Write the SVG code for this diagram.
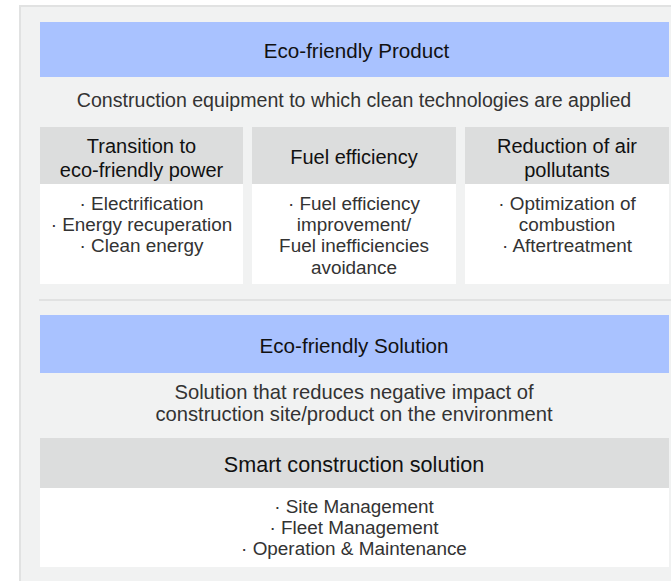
<svg xmlns="http://www.w3.org/2000/svg" width="671" height="581" viewBox="0 0 671 581">
<style>
.panel{fill:#f1f2f2;stroke:#e1e2e2;stroke-width:2}
.blue{fill:#a9c2ff}
.gray{fill:#dcdddd}
.white{fill:#ffffff}
.sep{stroke:#e1e2e2;stroke-width:2}
text{font-family:"Liberation Sans","Noto Sans",Arial,sans-serif;text-anchor:middle;fill:#2b2b2b}
.h{font-size:20.6px;fill:#111}
.ch{font-size:20px;fill:#111}
.sh{font-size:21.6px;fill:#111}
.t{font-size:19.6px;fill:#333}
.t2{font-size:20.2px;fill:#333}
.b{font-size:18.9px;fill:#333}
</style>
<rect class="panel" x="20" y="6" width="660" height="585"/>
<g id="product">
  <rect class="blue" x="40" y="22" width="629" height="55"/>
  <text class="h" x="356.5" y="58">Eco-friendly Product</text>
  <text class="t" x="354" y="107">Construction equipment to which clean technologies are applied</text>
</g>
<g id="col-power">
  <rect class="gray" x="40" y="127" width="203" height="57"/>
  <rect class="white" x="40" y="184" width="203" height="100"/>
  <text class="ch" x="141.5" y="153">Transition to</text>
  <text class="ch" x="141.5" y="177">eco-friendly power</text>
  <text class="b" x="141.5" y="210">· Electrification</text>
  <text class="b" x="141.5" y="231">· Energy recuperation</text>
  <text class="b" x="141.5" y="252">· Clean energy</text>
</g>
<g id="col-fuel">
  <rect class="gray" x="252" y="127" width="204" height="57"/>
  <rect class="white" x="252" y="184" width="204" height="100"/>
  <text class="ch" x="354" y="164">Fuel efficiency</text>
  <text class="b" x="354" y="210">· Fuel efficiency</text>
  <text class="b" x="354" y="231">improvement/</text>
  <text class="b" x="354" y="252">Fuel inefficiencies</text>
  <text class="b" x="354" y="274">avoidance</text>
</g>
<g id="col-air">
  <rect class="gray" x="465" y="127" width="204" height="57"/>
  <rect class="white" x="465" y="184" width="204" height="100"/>
  <text class="ch" x="567" y="153">Reduction of air</text>
  <text class="ch" x="567" y="177">pollutants</text>
  <text class="b" x="567" y="210">· Optimization of</text>
  <text class="b" x="567" y="231">combustion</text>
  <text class="b" x="567" y="252">· Aftertreatment</text>
</g>
<g id="connectors">
  <line class="sep" x1="39" y1="300" x2="671" y2="300"/>
</g>
<g id="solution">
  <rect class="blue" x="40" y="315" width="629" height="58"/>
  <text class="h" x="354" y="353">Eco-friendly Solution</text>
  <text class="t2" x="354" y="399">Solution that reduces negative impact of</text>
  <text class="t2" x="354" y="421">construction site/product on the environment</text>
</g>
<g id="smart">
  <rect class="gray" x="40" y="438" width="629" height="50"/>
  <rect class="white" x="40" y="488" width="629" height="79"/>
  <text class="sh" x="354" y="472">Smart construction solution</text>
  <text class="b" x="354" y="513">· Site Management</text>
  <text class="b" x="354" y="534">· Fleet Management</text>
  <text class="b" x="354" y="555">· Operation &amp; Maintenance</text>
</g>
</svg>
